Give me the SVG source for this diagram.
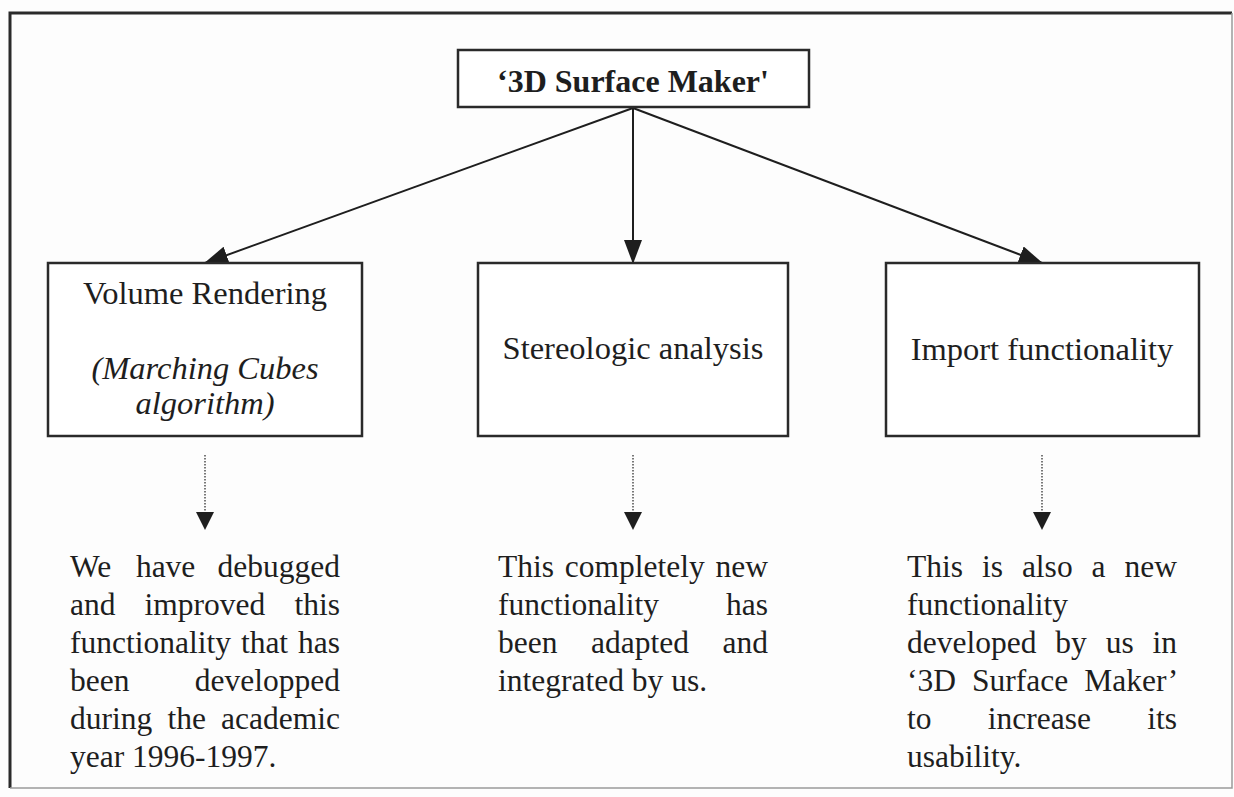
<svg xmlns="http://www.w3.org/2000/svg" width="1234" height="797" viewBox="0 0 1234 797">
<style>
.frame{fill:none;stroke:#2a2a2a;stroke-width:3}
.box{fill:#fff;stroke:#2a2a2a;stroke-width:2.5}
.t{font-family:"Liberation Serif","Times New Roman",serif;font-size:32.5px;fill:#1e1e1e}
.c{text-anchor:middle}
.b{font-weight:bold;font-size:32px}
.i{font-style:italic}
.p{font-family:"Liberation Serif","Times New Roman",serif;font-size:31.5px;fill:#1e1e1e}
.conn{stroke:#1e1e1e;stroke-width:2;fill:none}
.dot{stroke:#333;stroke-width:1.3;stroke-dasharray:1.5 1.5;fill:none}
.head{fill:#1e1e1e}
</style>
<defs>
<marker id="ah" markerUnits="userSpaceOnUse" markerWidth="24" markerHeight="18" viewBox="0 0 24 18" refX="23" refY="9" orient="auto">
<path d="M0,0 L24,9 L0,18 Z" fill="#1e1e1e"/>
</marker>
</defs>
<rect width="1234" height="797" fill="#fdfdfd"/>
<path d="M10,788 L10,13 L1232,13" class="frame"/>
<path d="M1232,13 L1232,788 L10,788" fill="none" stroke="#9a9a9a" stroke-width="1.5"/>

<g id="connectors">
<line x1="633" y1="108" x2="205" y2="263" class="conn" marker-end="url(#ah)"/>
<line x1="633" y1="108" x2="633" y2="263" class="conn" marker-end="url(#ah)"/>
<line x1="633" y1="108" x2="1042" y2="263" class="conn" marker-end="url(#ah)"/>
<line x1="205" y1="455" x2="205" y2="513" class="dot"/>
<path d="M196,512 L214,512 L205,530 Z" class="head"/>
<line x1="633" y1="455" x2="633" y2="513" class="dot"/>
<path d="M624,512 L642,512 L633,530 Z" class="head"/>
<line x1="1042" y1="455" x2="1042" y2="513" class="dot"/>
<path d="M1033,512 L1051,512 L1042,530 Z" class="head"/>
</g>

<g id="root">
<rect x="458" y="50" width="351" height="57" class="box"/>
<text x="633" y="92" class="t c b">‘3D Surface Maker'</text>
</g>

<g id="volume">
<rect x="48" y="263" width="314" height="173" class="box"/>
<text x="205" y="304" class="t c">Volume Rendering</text>
<text x="205" y="379" class="t c i">(Marching Cubes</text>
<text x="205" y="414" class="t c i">algorithm)</text>
</g>

<g id="stereo">
<rect x="478" y="263" width="310" height="173" class="box"/>
<text x="633" y="359" class="t c">Stereologic analysis</text>
</g>

<g id="import">
<rect x="886" y="263" width="313" height="173" class="box"/>
<text x="1042" y="360" class="t c">Import functionality</text>
</g>

<g id="note-volume" class="p">
<text y="577"><tspan x="70">We</tspan><tspan x="135.9">have</tspan><tspan x="217.5">debugged</tspan></text>
<text y="615"><tspan x="70">and</tspan><tspan x="144.6">improved</tspan><tspan x="294.5">this</tspan></text>
<text y="653"><tspan x="70">functionality</tspan><tspan x="240.9">that</tspan><tspan x="298">has</tspan></text>
<text y="691"><tspan x="70">been</tspan><tspan x="194.8">developped</tspan></text>
<text y="729"><tspan x="70">during</tspan><tspan x="167.4">the</tspan><tspan x="221.1">academic</tspan></text>
<text y="767" x="70">year 1996-1997.</text>
</g>

<g id="note-stereo" class="p">
<text y="577"><tspan x="498">This</tspan><tspan x="564.75">completely</tspan><tspan x="715.5">new</tspan></text>
<text y="615"><tspan x="498">functionality</tspan><tspan x="726">has</tspan></text>
<text y="653"><tspan x="498">been</tspan><tspan x="591">adapted</tspan><tspan x="722.5">and</tspan></text>
<text y="691" x="498">integrated by us.</text>
</g>

<g id="note-import" class="p">
<text y="577"><tspan x="907">This</tspan><tspan x="981.95">is</tspan><tspan x="1021.9">also</tspan><tspan x="1091.55">a</tspan><tspan x="1124.5">new</tspan></text>
<text y="615" x="907">functionality</text>
<text y="653"><tspan x="907">developed</tspan><tspan x="1055.3">by</tspan><tspan x="1105.7">us</tspan><tspan x="1152.5">in</tspan></text>
<text y="691"><tspan x="907">‘3D</tspan><tspan x="972.05">Surface</tspan><tspan x="1084.3">Maker’</tspan></text>
<text y="729"><tspan x="907">to</tspan><tspan x="987.75">increase</tspan><tspan x="1147.2">its</tspan></text>
<text y="767" x="907">usability.</text>
</g>
</svg>
